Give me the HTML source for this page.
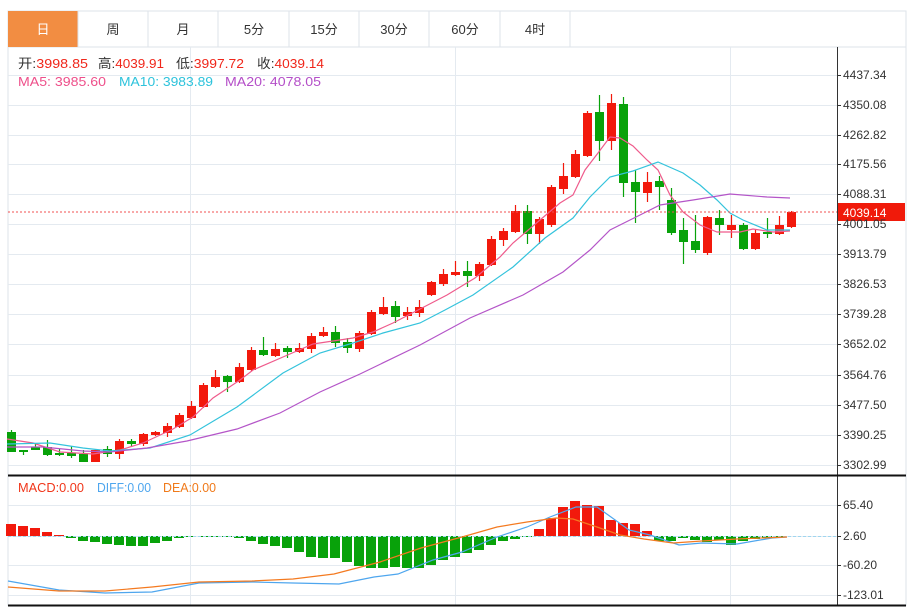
<!DOCTYPE html>
<html><head><meta charset="utf-8"><style>
html,body{margin:0;padding:0;background:#fff;}
body{width:913px;height:608px;overflow:hidden;position:relative;font-family:"Liberation Sans","Noto Sans CJK SC",sans-serif;}
svg{position:absolute;left:0;top:0;}
</style></head><body>
<svg id="s" width="913" height="608" xmlns="http://www.w3.org/2000/svg" font-family="Liberation Sans, Noto Sans CJK SC, sans-serif">
<rect x="8" y="11" width="898" height="36" fill="#fff" stroke="#dde3ea"/>
<rect x="8" y="11" width="70" height="36" fill="#f28d42"/>
<g stroke="#dde3ea"><line x1="148" y1="11" x2="148" y2="47"/><line x1="218" y1="11" x2="218" y2="47"/><line x1="289" y1="11" x2="289" y2="47"/><line x1="359" y1="11" x2="359" y2="47"/><line x1="429" y1="11" x2="429" y2="47"/><line x1="500" y1="11" x2="500" y2="47"/><line x1="570" y1="11" x2="570" y2="47"/><line x1="78" y1="11" x2="78" y2="47"/></g>
<g font-size="13" text-anchor="middle" fill="#333"><text x="43" y="34" fill="#fff">日</text><text x="113" y="34">周</text><text x="183" y="34">月</text><text x="254" y="34">5分</text><text x="324" y="34">15分</text><text x="394" y="34">30分</text><text x="465" y="34">60分</text><text x="535" y="34">4时</text></g>
<line x1="906" y1="47" x2="906" y2="606" stroke="#dde3ea"/>
<line x1="8" y1="47" x2="8" y2="606" stroke="#dde3ea"/>
<g id="grid" stroke="#e4eaf0" stroke-width="1"></g>
<g id="chart"></g>
<line x1="837.5" y1="47" x2="837.5" y2="606" stroke="#333"/>
<line x1="8" y1="475.5" x2="906" y2="475.5" stroke="#111" stroke-width="2"/>
<line x1="8" y1="605.5" x2="906" y2="605.5" stroke="#111" stroke-width="2"/>
<line x1="8" y1="212" x2="837" y2="212" stroke="#f05050" stroke-dasharray="2,2"/>
<rect x="838" y="203" width="67" height="18" fill="#f01a0a"/>
<text x="843" y="217" font-size="12" fill="#fff">4039.14</text>
<g font-size="13">
<text x="18" y="68" fill="#333" textLength="70" lengthAdjust="spacingAndGlyphs">开:<tspan fill="#f0261a">3998.85</tspan></text>
<text x="98" y="68" fill="#333" textLength="66" lengthAdjust="spacingAndGlyphs">高:<tspan fill="#f0261a">4039.91</tspan></text>
<text x="176" y="68" fill="#333" textLength="68" lengthAdjust="spacingAndGlyphs">低:<tspan fill="#f0261a">3997.72</tspan></text>
<text x="257" y="68" fill="#333" textLength="67" lengthAdjust="spacingAndGlyphs">收:<tspan fill="#f0261a">4039.14</tspan></text>
<text x="18" y="86" fill="#ee4f8a" textLength="88" lengthAdjust="spacingAndGlyphs">MA5: 3985.60</text>
<text x="119" y="86" fill="#2ec3dc" textLength="94" lengthAdjust="spacingAndGlyphs">MA10: 3983.89</text>
<text x="225" y="86" fill="#b44ec8" textLength="96" lengthAdjust="spacingAndGlyphs">MA20: 4078.05</text>
<text x="18" y="492" fill="#f0361a" textLength="66" lengthAdjust="spacingAndGlyphs">MACD:0.00</text>
<text x="97" y="492" fill="#4ea6ee" textLength="54" lengthAdjust="spacingAndGlyphs">DIFF:0.00</text>
<text x="163" y="492" fill="#f07a1a" textLength="53" lengthAdjust="spacingAndGlyphs">DEA:0.00</text>
</g>
<g id="axis" font-size="12" fill="#333"></g>
</svg>
<script>
var NS="http://www.w3.org/2000/svg";
function el(p,t,a){var e=document.createElementNS(NS,t);for(var k in a)e.setAttribute(k,a[k]);document.getElementById(p).appendChild(e);return e;}
var ticks=[[75,"4437.34"],[105,"4350.08"],[135,"4262.82"],[164,"4175.56"],[194,"4088.31"],[224,"4001.05"],[254,"3913.79"],[284,"3826.53"],[314,"3739.28"],[344,"3652.02"],[375,"3564.76"],[405,"3477.50"],[435,"3390.25"],[465,"3302.99"],[505,"65.40"],[536,"2.60"],[565,"-60.20"],[595,"-123.01"]];
ticks.forEach(function(t){el('grid','line',{x1:8,x2:837,y1:t[0]+.5,y2:t[0]+.5});el('axis','line',{x1:837,x2:841,y1:t[0]+.5,y2:t[0]+.5,stroke:'#333'});var e=el('axis','text',{x:843,y:t[0]+4});e.textContent=t[1];});
[190,455,730].forEach(function(x){el('grid','line',{x1:x+.5,x2:x+.5,y1:47,y2:605});});
var C=[[432,452,430,452],[450,452,450,455],[447,450,443,450],[447,455,440,456],[453,455,449,456],[453,456,446,458],[454,462,450,462],[462,450,449,462],[449,454,446,457],[454,441,439,459],[441,444,439,446],[444,434,433,446],[435,432,431,436],[433,426,423,437],[427,415,413,428],[418,406,401,419],[407,385,383,408],[387,377,370,388],[376,382,375,392],[382,367,363,383],[370,350,347,371],[350,355,337,356],[356,349,343,357],[348,352,346,358],[352,348,343,353],[349,336,333,353],[336,332,327,337],[332,343,326,347],[342,348,338,353],[349,333,331,352],[334,312,310,335],[314,307,297,315],[306,317,301,323],[316,312,307,320],[313,307,300,317],[295,282,281,296],[284,274,269,286],[275,272,261,276],[271,276,261,287],[276,264,262,281],[265,239,236,266],[240,231,228,246],[232,211,205,233],[211,234,205,244],[234,219,217,244],[225,187,185,227],[189,176,163,194],[177,154,150,178],[156,113,111,157],[112,141,95,161],[141,103,94,150],[104,183,97,197],[182,192,170,223],[193,182,172,202],[181,187,176,210],[200,233,188,235],[230,242,218,264],[241,250,215,253],[253,217,216,255],[218,225,210,235],[230,225,215,238],[225,249,223,250],[249,233,229,250],[232,234,218,238],[234,225,216,235],[227,212,211,228]];
C.forEach(function(c,i){var x=11+i*12,up=c[1]<c[0],col=up?'#f2190c':'#08a20a';
el('chart','line',{x1:x+.5,x2:x+.5,y1:c[2],y2:c[3],stroke:col,'stroke-width':1.2});
var t=Math.min(c[0],c[1]),h=Math.max(Math.abs(c[0]-c[1]),1.5);el('chart','rect',{x:x-4,y:t,width:9,height:h,fill:col});});
function pl(pts,col,w){el('chart','polyline',{points:pts,fill:'none',stroke:col,'stroke-width':w||1.2});}
pl("7,439 33,443 60,452 93,454 120,450 143,443 173,429 193,417 213,398 240,380 253,370 283,357 313,344 333,341 353,338 373,332 393,323 420,309 447,295 475,278 500,257 513,243 540,220 560,203 573,195 585,170 598,153 610,137 620,138 633,146 647,160 658,170 670,195 683,212 700,225 717,232 740,232 753,229 773,232 790,231","#ef5b8c");
pl("7,444 50,443 83,448 110,451 150,448 190,435 237,407 283,373 320,353 353,343 383,333 420,323 445,310 473,295 513,267 545,238 573,218 590,197 610,177 633,171 658,162 683,173 700,185 717,200 730,213 743,220 767,230 790,230","#34c3dc");
pl("7,447 43,447 83,451 110,452 147,448 187,441 237,429 280,413 320,392 360,374 420,345 470,318 523,295 563,272 590,250 610,230 640,215 660,205 693,200 730,194 767,197 790,198","#b455c8");
var Z=536,M=[524,526,528,532,535,538,541,542,544,545,546,546,543,541,538,537,537,537,537,538,541,544,546,548,552,557,558,558,562,566,568,568,567,568,568,565,560,557,553,550,545,541,539,537,529,518,507,501,505,506,520,523,524,531,541,541,538,540,542,540,545,541,539,538,537,536];
M.forEach(function(y,i){var x=11+i*12;if(y<Z)el('chart','rect',{x:x-5,y:y,width:10,height:Z-y,fill:'#f2190c'});else if(y>Z)el('chart','rect',{x:x-5,y:Z,width:10,height:y-Z,fill:'#08a20a'});});
el('chart','line',{x1:8,x2:837,y1:Z+.5,y2:Z+.5,stroke:'#9fd6f0','stroke-dasharray':'3,2'});
pl("8,581 59,590 105,593 152,592 199,583 252,582 293,583 339,584 374,577 398,574 433,560 462,552 497,537 527,527 550,517 576,507 597,507 611,517 629,530 650,535 679,545 702,543 737,544 772,538 787,537","#4ea6ee");
pl("8,587 59,591 105,591 152,587 199,582 252,581 293,579 334,574 380,562 421,548 462,537 497,527 527,522 556,518 573,519 597,527 620,535 644,539 673,543 702,541 737,539 787,537","#f47a20");
</script>
</body></html>
